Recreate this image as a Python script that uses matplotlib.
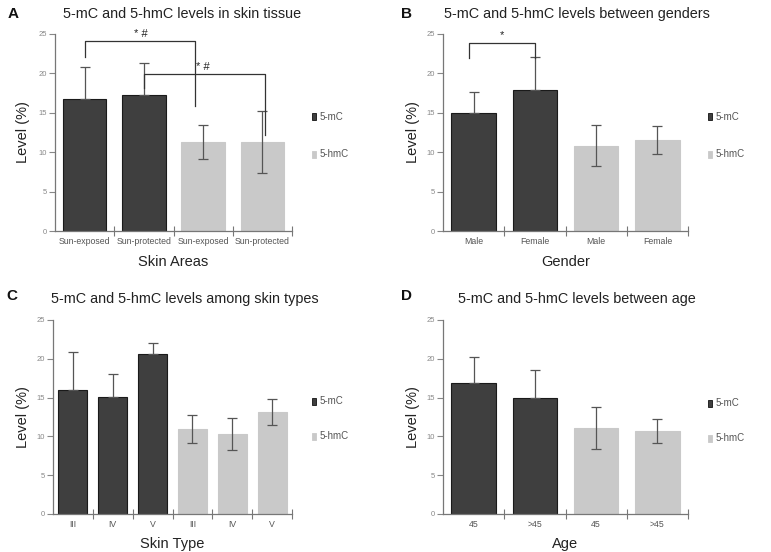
import matplotlib
matplotlib.use("Agg")
import matplotlib.pyplot as plt
import numpy as np

plt.rcParams['font.family'] = ['Liberation Sans', 'DejaVu Sans']

# ---- Data ----
a_labels = ["Sun-exposed", "Sun-protected", "Sun-exposed", "Sun-protected"]
a_mean = [16.8, 17.3, 11.3, 11.25]
a_sd = [4.0, 4.0, 2.15, 3.95]

b_labels = ["Male", "Female", "Male", "Female"]
b_mean = [15.0, 17.9, 10.85, 11.55]
b_sd = [2.7, 4.2, 2.55, 1.75]

c_labels = ["III", "IV", "V", "III", "IV", "V"]
c_mean = [16.0, 15.1, 20.6, 10.95, 10.35, 13.15]
c_sd = [4.85, 3.0, 1.5, 1.8, 2.05, 1.65]

d_labels = ["45", ">45", "45", ">45"]
d_mean = [16.9, 14.9, 11.1, 10.7]
d_sd = [3.3, 3.6, 2.7, 1.6]

DARK = "#3f3f3f"
LIGHT = "#c9c9c9"
ERR = "#555555"
GRAY = "#777777"

fig = plt.figure(figsize=(7.71, 5.52), dpi=100)
W, H = 771, 552


def ax_at(l, t, r, b):
    return fig.add_axes([l / W, 1 - b / H, (r - l) / W, (b - t) / H])


def panel(ax, labels, mean, sd, ndark, title, letter, xlabel, title_xy, letter_xy,
          ylab_x, xlab_y, leg_y):
    n = len(labels)
    x = np.arange(n)
    colors = [DARK if i < ndark else LIGHT for i in range(n)]
    edges = ["#1a1a1a" if i < ndark else LIGHT for i in range(n)]
    ax.bar(x, mean, width=0.73, color=colors, edgecolor=edges, linewidth=0.8, zorder=2)
    lower = [0 if i < ndark else sd[i] for i in range(n)]
    ax.errorbar(x, mean, yerr=[lower, sd], fmt="none", ecolor=ERR, elinewidth=0.9,
                capsize=3.5, capthick=0.9, zorder=3)
    ax.set_xlim(-0.5, n - 0.5)
    ax.set_ylim(0, 25)
    ax.set_yticks([0, 5, 10, 15, 20, 25])
    ax.set_xticks(x)
    ax.set_xticklabels(labels)
    ax.set_xticks(np.arange(n) + 0.5, minor=True)
    ax.tick_params(axis="x", which="major", length=0, labelsize=6.3, colors="#555555", pad=4)
    ax.tick_params(axis="x", which="minor", length=7, direction="inout", color=GRAY, width=0.8)
    ax.tick_params(axis="y", length=4, direction="out", labelsize=5.5, colors="#888888",
                   width=0.8, pad=2)
    for s in ["top", "right"]:
        ax.spines[s].set_visible(False)
    for s in ["left", "bottom"]:
        ax.spines[s].set_color(GRAY)
        ax.spines[s].set_linewidth(0.9)
    ax.set_facecolor("none")
    fig.text(title_xy[0] / W, 1 - title_xy[1] / H, title, ha="center", va="center",
             fontsize=10.4, color="#222222")
    fig.text(letter_xy[0] / W, 1 - letter_xy[1] / H, letter, ha="left", va="center",
             fontsize=11, fontweight="bold", color="#111111")
    pos = ax.get_position()
    fig.text(ylab_x / W, pos.y0 + pos.height / 2, "Level (%)", rotation=90, ha="center",
             va="center", fontsize=10.5, color="#222222")
    fig.text((pos.x0 + pos.width / 2), 1 - xlab_y / H, xlabel, ha="center", va="center",
             fontsize=10.5, color="#222222")
    lx = pos.x1 + 20 / W
    for yy, col, edge, txt in [(leg_y[0], DARK, "#111111", "5-mC"),
                               (leg_y[1], LIGHT, LIGHT, "5-hmC")]:
        fig.patches.append(plt.Rectangle((lx, 1 - yy / H - 3.5 / H), 4 / W, 7 / H,
                                         transform=fig.transFigure, facecolor=col,
                                         edgecolor=edge, linewidth=0.6))
        fig.text(lx + 8 / W, 1 - yy / H, txt, ha="left", va="center", fontsize=7,
                 color="#555555")


def bracket(ax, x1, x2, y, y1, y2, text, tx):
    ax.plot([x1, x1, x2, x2], [y1, y, y, y2], color="#333333", lw=0.9, zorder=4,
            clip_on=False)
    ax.text(tx, y + 0.3, text, ha="center", va="bottom", fontsize=8, color="#222222")


axA = ax_at(55, 34, 292, 231)
panel(axA, a_labels, a_mean, a_sd, 2, "5-mC and 5-hmC levels in skin tissue", "A",
      "Skin Areas", (182, 14), (8, 14), 23, 262, (117, 154))
bracket(axA, 0, 1.87, 24.1, 22.1, 15.8, "* #", 0.95)
bracket(axA, 1.0, 3.05, 19.9, 18.2, 12.2, "* #", 2.0)

axB = ax_at(443, 34, 688, 231)
panel(axB, b_labels, b_mean, b_sd, 2, "5-mC and 5-hmC levels between genders", "B",
      "Gender", (577, 14), (401, 14), 413, 262, (117, 154))
bracket(axB, -0.07, 1.0, 23.9, 21.9, 21.9, "*", 0.46)

axC = ax_at(53, 320, 292, 514)
panel(axC, c_labels, c_mean, c_sd, 3, "5-mC and 5-hmC levels among skin types", "C",
      "Skin Type", (185, 299), (6, 296), 23, 544, (401, 436))

axD = ax_at(443, 320, 688, 514)
panel(axD, d_labels, d_mean, d_sd, 2, "5-mC and 5-hmC levels between age", "D",
      "Age", (577, 299), (401, 296), 413, 544, (403, 438))

fig.savefig("out.png", dpi=100, facecolor="white")
